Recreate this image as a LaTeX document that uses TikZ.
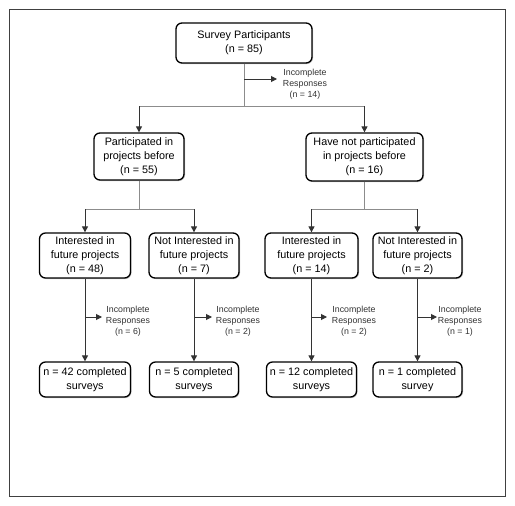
\documentclass[tikz,border=0pt]{standalone}
\usepackage{fontspec}
\setmainfont{Liberation Sans}
\usetikzlibrary{arrows.meta,shadows}
\begin{document}
\begin{tikzpicture}[x=1pt,y=-1pt,
  box/.style={draw=black,line width=1.3pt,rounded corners=6pt,fill=white,align=center,
    inner sep=0pt,font=\fontsize{10.8}{14}\selectfont,
    drop shadow={shadow xshift=1pt,shadow yshift=-1pt,fill=black!35,opacity=0.7}},
  stem/.style={draw=black!45,line width=1pt},
  arr/.style={draw=black!80,line width=1pt,-{Triangle[length=6pt,width=6pt]}},
  note/.style={align=center,font=\fontsize{8.8}{11}\selectfont,text=black!80,inner sep=0pt}]
\useasboundingbox (0,0) rectangle (515,506);
\draw[black!75,line width=1pt] (9,9) rectangle (505,496);
% boxes
\node[box,minimum width=136pt,minimum height=40pt] (top) at (244,43) {Survey Participants\\(n = 85)};
\node[box,minimum width=90pt,minimum height=47pt] (pl) at (139,156.5) {Participated in\\projects before\\(n = 55)};
\node[box,minimum width=117pt,minimum height=48pt] (pr) at (364.5,157) {Have not participated\\in projects before\\(n = 16)};
\node[box,minimum width=91pt,minimum height=45pt] (a1) at (85,255.5) {Interested in\\future projects\\(n = 48)};
\node[box,minimum width=90pt,minimum height=45pt] (a2) at (194,255.5) {Not Interested in\\future projects\\(n = 7)};
\node[box,minimum width=93pt,minimum height=45pt] (a3) at (311.5,255.5) {Interested in\\future projects\\(n = 14)};
\node[box,minimum width=89pt,minimum height=45pt] (a4) at (417.5,255.5) {Not Interested in\\future projects\\(n = 2)};
\node[box,minimum width=91pt,minimum height=35pt] (b1) at (85,379.5) {n = 42 completed\\surveys};
\node[box,minimum width=89pt,minimum height=35pt] (b2) at (194,379.5) {n = 5 completed\\surveys};
\node[box,minimum width=90pt,minimum height=35pt] (b3) at (311.5,379.5) {n = 12 completed\\surveys};
\node[box,minimum width=89pt,minimum height=35pt] (b4) at (417.5,379.5) {n = 1 completed\\survey};
% level 1 -> 2
\coordinate (t0) at (244,79);
\coordinate (t0e) at (277,79);
\coordinate (t1) at (244,106);
\coordinate (t1l) at (139,106);
\coordinate (t1r) at (364.5,106);
\draw[stem] (top.south) -- (t1);
\draw[stem] (t1l) -- (t1r);
\draw[arr] (t0) -- (t0e);
\node[note] (n0) at (305,84) {Incomplete\\Responses\\(n = 14)};
\draw[arr] (t1l) -- (pl.north);
\draw[arr] (t1r) -- (pr.north);
% level 2 -> 3
\coordinate (l1) at (139,209);
\coordinate (l1a) at (85,209);
\coordinate (l1b) at (194,209);
\draw[stem] (pl.south) -- (l1);
\draw[stem] (l1a) -- (l1b);
\draw[arr] (l1a) -- (a1.north);
\draw[arr] (l1b) -- (a2.north);
\coordinate (r1) at (364.5,209);
\coordinate (r1a) at (311.5,209);
\coordinate (r1b) at (417.5,209);
\draw[stem] (pr.south) -- (r1);
\draw[stem] (r1a) -- (r1b);
\draw[arr] (r1a) -- (a3.north);
\draw[arr] (r1b) -- (a4.north);
% level 3 -> 4
\draw[arr] (a1.south) -- (b1.north);
\draw[arr] (a2.south) -- (b2.north);
\draw[arr] (a3.south) -- (b3.north);
\draw[arr] (a4.south) -- (b4.north);
\coordinate (c1) at (85,317); \coordinate (c1e) at (102,317);
\coordinate (c2) at (194,317); \coordinate (c2e) at (212,317);
\coordinate (c3) at (311.5,317); \coordinate (c3e) at (327,317);
\coordinate (c4) at (417.5,317); \coordinate (c4e) at (437,317);
\draw[arr] (c1) -- (c1e);
\draw[arr] (c2) -- (c2e);
\draw[arr] (c3) -- (c3e);
\draw[arr] (c4) -- (c4e);
\node[note] (n1) at (128,321) {Incomplete\\Responses\\(n = 6)};
\node[note] (n2) at (238,321) {Incomplete\\Responses\\(n = 2)};
\node[note] (n3) at (354,321) {Incomplete\\Responses\\(n = 2)};
\node[note] (n4) at (460,321) {Incomplete\\Responses\\(n = 1)};
\end{tikzpicture}
\end{document}
